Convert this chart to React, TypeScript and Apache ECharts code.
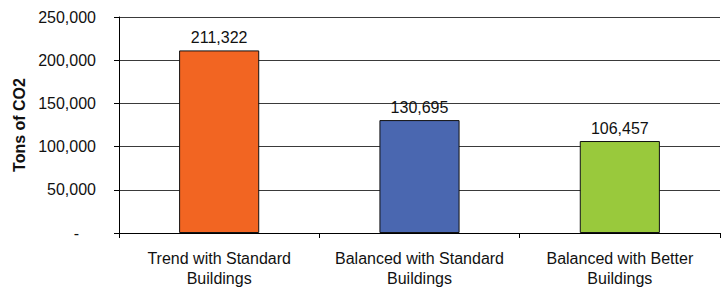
import React, { useEffect, useRef } from "react";
import * as echarts from "echarts";

const categories = [
  "Trend with Standard\nBuildings",
  "Balanced with Standard\nBuildings",
  "Balanced with Better\nBuildings",
];
const values = [211322, 130695, 106457];
const barColors = ["#F26522", "#4A67B0", "#99C93C"];
const yTicks = { min: 0, max: 250000, interval: 50000 };
const yAxisTitle = "Tons of CO2";

const FONT = "'Liberation Sans', Arial, sans-serif";

export default function App() {
  const ref = useRef<HTMLDivElement>(null);
  useEffect(() => {
    if (!ref.current) return;
    const chart = echarts.init(ref.current, null, { renderer: "svg" });
    chart.setOption({
      animation: false,
      backgroundColor: "#ffffff",
      textStyle: { fontFamily: FONT },
      grid: { left: 119, right: 1, top: 17, bottom: 54, containLabel: false },
      xAxis: {
        type: "category",
        data: categories,
        boundaryGap: true,
        axisLine: { show: true, lineStyle: { color: "#000", width: 1 } },
        axisTick: { show: true, alignWithLabel: false, length: 5, lineStyle: { color: "#000" } },
        axisLabel: {
          interval: 0,
          margin: 15,
          color: "#111",
          fontSize: 16,
          lineHeight: 20,
          fontFamily: FONT,
          align: "center",
        },
      },
      yAxis: {
        type: "value",
        min: yTicks.min,
        max: yTicks.max,
        interval: yTicks.interval,
        name: yAxisTitle,
        nameLocation: "middle",
        nameGap: 92,
        nameTextStyle: { fontSize: 16, fontWeight: "bold", color: "#111", fontFamily: FONT },
        axisLine: { show: true, lineStyle: { color: "#000", width: 1 } },
        axisTick: { show: true, inside: false, length: 5, lineStyle: { color: "#000" } },
        splitLine: { show: true, lineStyle: { color: "#3a3a3a", width: 1 } },
        axisLabel: {
          margin: 23,
          color: "#111",
          fontSize: 16,
          fontFamily: FONT,
          formatter: (v: number) =>
            v === 0 ? "{d|-}" : v.toLocaleString("en-US"),
          rich: {
            d: { fontSize: 16, color: "#111", padding: [0, 17, 0, 0], fontFamily: FONT },
          },
        },
      },
      series: [
        {
          type: "bar",
          barWidth: "40%",
          data: values.map((v, i) => ({
            value: v,
            itemStyle: { color: barColors[i], borderColor: "#111", borderWidth: 1 },
          })),
          label: {
            show: true,
            position: "top",
            distance: 5,
            color: "#111",
            fontSize: 16,
            fontFamily: FONT,
            formatter: (p: any) => Number(p.value).toLocaleString("en-US"),
          },
        },
      ],
    });
    return () => chart.dispose();
  }, []);
  return (
    <div
      ref={ref}
      style={{ position: "fixed", left: 0, top: 0, width: 721, height: 288 }}
    />
  );
}
